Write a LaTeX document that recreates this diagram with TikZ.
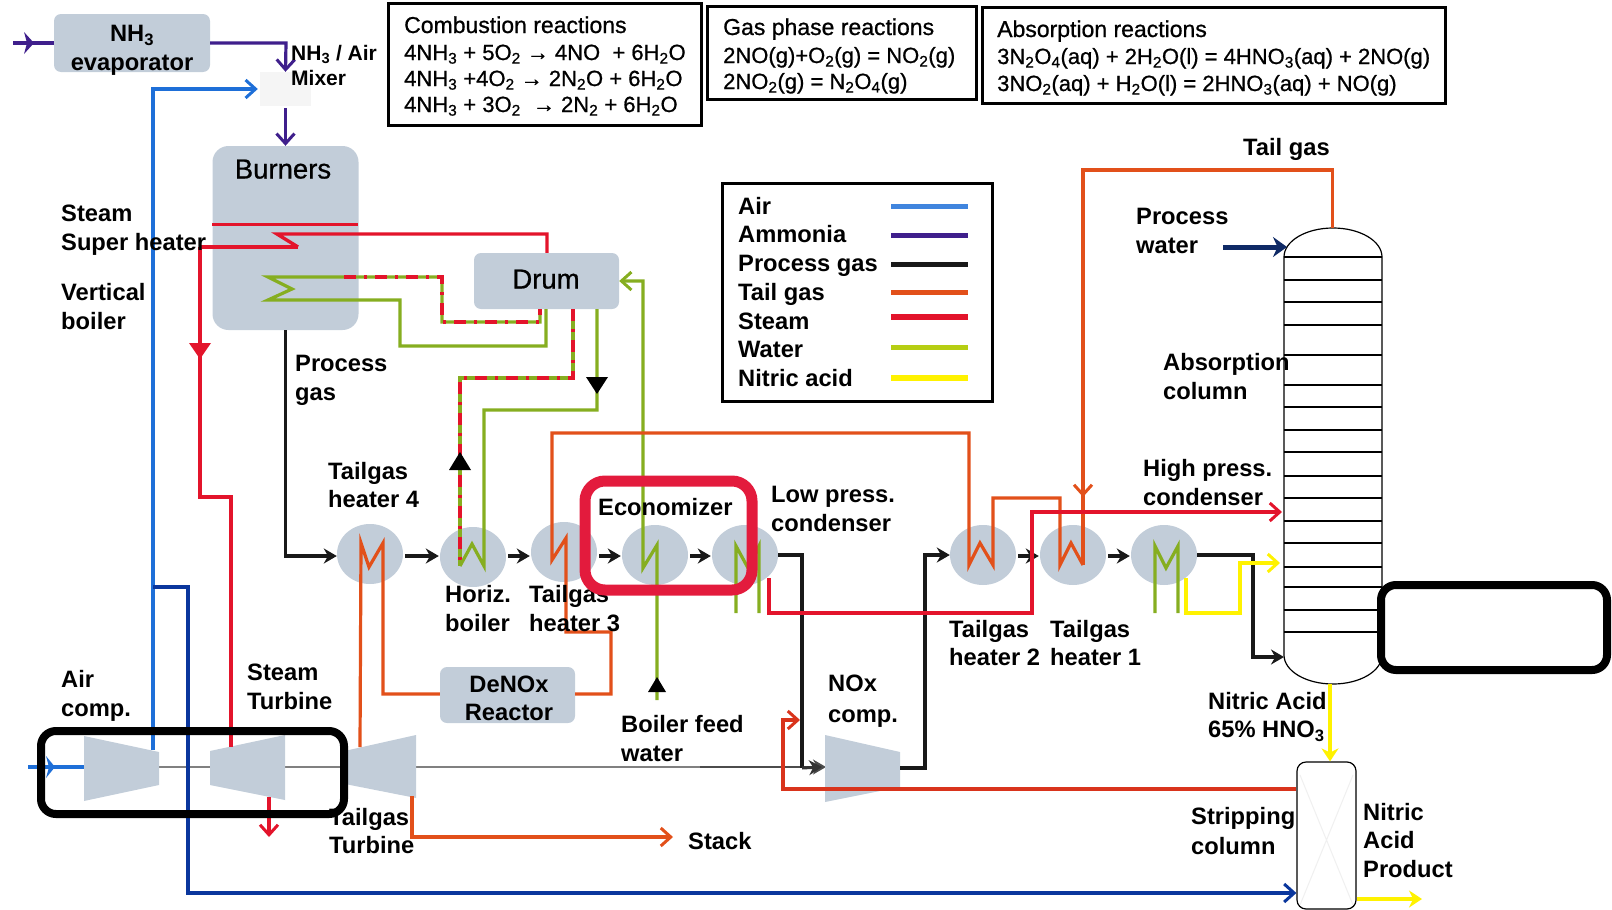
\documentclass[tikz,border=0pt]{standalone}
\usepackage{fontspec}
\setmainfont{Liberation Sans}
\newfontfamily\medfont{Liberation Sans}[FakeBold=0.8]
\usetikzlibrary{arrows.meta,shapes.geometric}
\definecolor{eqgray}{HTML}{C2CDD9}
\definecolor{airc}{HTML}{1E6FD8}
\definecolor{navyc}{HTML}{0A369D}
\definecolor{ammc}{HTML}{3F1F8C}
\definecolor{tailc}{HTML}{E2501A}
\definecolor{tailr}{HTML}{D9341C}
\definecolor{steamc}{HTML}{E3142B}
\definecolor{waterc}{HTML}{86AE20}
\definecolor{acidc}{HTML}{FFF200}
\definecolor{framer}{HTML}{E31B3D}
\definecolor{pwater}{HTML}{0F2A66}
\tikzset{
  eqbox/.style={rectangle,fill=eqgray,draw=none,inner sep=0pt,rounded corners=7pt},
  hx/.style={ellipse,fill=eqgray,draw=none,inner sep=0pt,minimum width=66pt,minimum height=60pt},
  turbo/.style={fill=eqgray,draw=none},
  lbl/.style={anchor=west,inner sep=0pt,text height=17pt,text depth=0pt,font=\fontsize{23.7}{26}\selectfont\bfseries},
  lblc/.style={lbl,anchor=center},
  rxn/.style={anchor=west,inner sep=0pt,text height=16pt,text depth=0pt,font=\fontsize{22}{26}\selectfont\medfont},
  rxt/.style={rxn,font=\fontsize{23}{26}\selectfont\medfont},
  panel/.style={draw=black,line width=3pt,fill=white},
  air/.style={draw=airc,line width=3.2pt},
  navy/.style={draw=navyc,line width=3.2pt},
  amm/.style={draw=ammc,line width=3.2pt},
  pgas/.style={draw=black!90,line width=4.5pt},
  tail/.style={draw=tailc,line width=3.2pt},
  steam/.style={draw=steamc,line width=3.4pt},
  water/.style={draw=waterc,line width=3.2pt},
  acid/.style={draw=acidc,line width=3.4pt},
  dashred/.style={draw=steamc,line width=3.4pt,dash pattern=on 12pt off 8pt on 3pt off 8pt},
  barb/.style={-{Straight Barb[length=10pt,width=18pt,line width=3pt]}},
  headblk/.style={-{Stealth[length=13pt,width=15pt]}},
  headfill/.style={-{Stealth[length=13pt,width=17pt]}},
  column/.style={draw=black,line width=1.2pt},
  tray/.style={draw=black,line width=1.2pt},
  frame/.style={line width=8pt,rounded corners=15pt},
}
\newcommand{\lab}[4]{\node[lbl] (#1) at (#2,#3) {#4};}
\newcommand{\rx}[4]{\node[rxn] (#1) at (#2,#3) {#4};}
\newcommand{\rt}[4]{\node[rxt] (#1) at (#2,#3) {#4};}
\newcommand{\s}[1]{\textsubscript{#1}}
\begin{document}
\begin{tikzpicture}[x=1pt,y=-1pt]
\useasboundingbox (0,0) rectangle (1612,910);
% ---------- equipment
\node[eqbox,minimum width=156pt,minimum height=58pt] (evap) at (132,43) {};
\node[rectangle,fill=black!4,inner sep=0pt,minimum width=51pt,minimum height=34pt] (mixer) at (285.5,89) {};
\node[eqbox,rounded corners=16pt,minimum width=146pt,minimum height=184pt] (burn) at (285.5,238) {};
\node[eqbox,minimum width=145pt,minimum height=56pt] (drum) at (546.5,281) {};
\node[eqbox,minimum width=135pt,minimum height=56pt] (denox) at (507.5,695) {};
\node[hx] (he4) at (370,554) {};
\node[hx] (hb) at (473,557) {};
\node[hx] (he3) at (564,552) {};
\node[hx] (eco) at (655,555) {};
\node[hx] (lp) at (745,555) {};
\node[hx] (he2) at (983,555) {};
\node[hx] (he1) at (1073,555) {};
\node[hx] (hp) at (1164,555) {};
\coordinate (hline) at (0,556);
% ---------- shaft
\coordinate (shaftA) at (159,767);
\coordinate (shaftB) at (822,767);
\draw[draw=black!50,line width=2.6pt] (shaftA) -- (shaftB);
\draw[draw=black!70,line width=2.4pt,-{Stealth[length=13pt,width=15pt]}] (700,767) -- (826,767);
% ---------- turbomachines
\fill[turbo] (84,736) -- (159,752) -- (159,785) -- (84,801) -- cycle;
\fill[turbo] (210,751) -- (285,735) -- (285,800) -- (210,785) -- cycle;
\fill[turbo] (340,752) -- (416,735) -- (416,798) -- (340,783) -- cycle;
\fill[turbo] (825,735) -- (900,752) -- (900,787) -- (825,802) -- cycle;
\coordinate (acOut) at (153,750);
\coordinate (stIn) at (231,747);
\coordinate (stOut) at (269,797);
\coordinate (ttIn) at (360,747);
\coordinate (ttOut) at (412,796);
\coordinate (ncIn) at (822,767);
\coordinate (ncOut) at (900,768);
% ---------- column shells
\node[inner sep=0pt,minimum width=98pt,minimum height=456pt] (abs) at (1332.5,456) {};
\draw[column] (1284,655) -- (1284,257) arc[start angle=180,end angle=360,x radius=49,y radius=29] -- (1382,655) arc[start angle=0,end angle=180,x radius=49,y radius=29];
\foreach \yy in {257,280,302,325,355,385,407,430,452,476,498,521,543,567,587,610,632}
  \draw[tray] (1284,\yy) -- (1382,\yy);
\node[draw=black,line width=1.2pt,fill=white,rounded corners=9pt,inner sep=0pt,minimum width=59pt,minimum height=147pt] (strip) at (1326.5,835.5) {};
\draw[draw=black!6,line width=1pt] (1300,775) -- (1353,905) (1353,775) -- (1300,905);
% ---------- ammonia
\coordinate (nhIn) at (13,43);
\draw[amm] (nhIn) -- (evap.west);
\fill[ammc] (24,32) -- (34,43) -- (24,54) -- (27,43) -- cycle;
\coordinate (evapMix) at (286,43);
\draw[amm,barb] (evap.east |- nhIn) -- (evapMix) -- (mixer.north);
\draw[amm,barb,shorten <=2pt] (mixer.south) -- (burn.north);
% ---------- air
\coordinate (airIn) at (28,767);
\draw[draw=airc,line width=3.4pt] (airIn) -- (84,767);
\fill[airc] (46,756) -- (55,767) -- (46,778) -- (49,767) -- cycle;
\draw[air,barb,shorten >=2pt] (acOut) |- (mixer.west);
\coordinate (blueTee) at (153,587);
\coordinate (blueDown) at (188,893);
\draw[navy,barb] (blueTee) -| (blueDown) -- (strip.west |- blueDown);
% ---------- steam
\draw[steamc,line width=2.8pt] (212,224.5) -- (358,224.5);
\coordinate (sA) at (200,247);
\coordinate (sB) at (298,247);
\coordinate (sC) at (277,234);
\draw[steam] (sB) -- (sC) -| ([xshift=.5pt]drum.north);
\draw[steam,line width=4.6pt] (sA) -- (sB);
\coordinate (sD) at (200,497);
\coordinate (sE) at (231,497);
\draw[steam] (sA) -- (sD) -- (sE) -- (stIn);
\fill[steamc] (189,343) -- (211,343) -- (200,359) -- cycle;
\draw[steam,barb] (stOut) -- (269,837);
% ---------- water loops at drum
\coordinate (wA) at (268,277);
\coordinate (wB) at (292,289);
\coordinate (wC) at (268,300);
\coordinate (wE) at (400,346);
\coordinate (wF) at (442,322);
\draw[water] (546,309) |- (wE) |- (wC) -- (wB) -- (wA) -| (wF) -| (540,309);
\draw[dashred] (344,277) -| (wF) -| (540,309);
% drum down to horizontal boiler
\coordinate (dA) at (573,309);
\coordinate (dB) at (460,378);
\coordinate (dC) at (460,566);
\draw[water] (dA) |- (dB) -- (dC);
\draw[dashred] (dA) |- (dB) -- (dC);
\fill[black] (449,470) -- (471,470) -- (460,452) -- cycle;
\coordinate (gA) at (597,309);
\coordinate (gB) at (484,410);
\coordinate (gC) at (484,566);
\coordinate (gD) at (472,544);
\draw[water] (gA) |- (gB) -- (gC) -- (gD) -- (dC);
\fill[black] (586,377) -- (608,377) -- (597,394) -- cycle;
% boiler feed / economizer
\coordinate (bfw) at (657,700);
\coordinate (ecoA) at (657,545);
\coordinate (ecoB) at (643,568);
\coordinate (ecoC) at (643,281);
\draw[water,barb] (bfw) -- (ecoA) -- (ecoB) -- (ecoC) -- (drum.east);
\fill[black] (648,692) -- (666,692) -- (657,677) -- cycle;
% condenser coils
\draw[water] (736,613) -- (736,546) -- (748,568) -- (759,546) -- (759,613);
\draw[water] (1155,613) -- (1155,546) -- (1166,568) -- (1178,546) -- (1178,613);
% ---------- process gas
\draw[pgas,headblk,line width=3.8pt] (burn.south) |- (he4.west |- hline);
\foreach \p/\q in {he4/hb,hb/he3,he3/eco,eco/lp,he2/he1,he1/hp}
  \draw[pgas,headblk,shorten <=2pt,shorten >=1pt] (\p.east |- hline) -- (\q.west |- hline);
\coordinate (lpD) at (802,768);
\draw[pgas,line width=3.8pt] (lp.east) -| (lpD);
\draw[draw=black!80,line width=3pt,headblk] (lpD) -- (ncIn);
\coordinate (ncU) at (925,768);
\draw[pgas,headblk] (ncOut) -- (ncU) |- (he2.west);
\coordinate (hpD) at (1253,657);
\draw[pgas,headblk] (hp.east) -| (hpD) -- (1284,657);
% ---------- tail gas
\coordinate (t1) at (361,543);
\coordinate (t2) at (369,567);
\coordinate (t3) at (383,543);
\coordinate (t4) at (383,694);
\draw[tail] (ttIn) -- (t1) -- (t2) -- (t3) -- (t4) -- (t4 -| denox.west);
\coordinate (t5) at (611,694);
\coordinate (t6) at (611,632);
\coordinate (t7) at (566,632);
\coordinate (t8) at (566,538);
\coordinate (t9) at (552,560);
\coordinate (t10) at (552,433);
\coordinate (t11) at (969,433);
\coordinate (t12) at (969,565);
\coordinate (t13) at (980,543);
\coordinate (t14) at (993,565);
\coordinate (t15) at (993,498);
\coordinate (t16) at (1060,498);
\coordinate (t17) at (1060,565);
\coordinate (t18) at (1071,543);
\coordinate (t19) at (1083,565);
\coordinate (t20) at (1083,170);
\draw[tail] (t5 -| denox.east) -- (t5) -- (t6) -- (t7) -- (t8) -- (t9) -- (t10) -- (t11) -- (t12) -- (t13) -- (t14) -- (t15) -- (t16) -- (t17) -- (t18) -- (t19);
\draw[tail] (abs.north) -- (abs.north |- t20) -- (t20) -- (t19);
\draw[tail,barb] (t20) -- (1083,497);
\coordinate (stack) at (673,837);
\draw[tail,barb] (ttOut) |- (stack);
\coordinate (sr) at (783,789);
\coordinate (su) at (783,720);
\draw[draw=tailr,line width=3.2pt,barb] (strip.west |- sr) -- (sr) -- (su) -- (800,720);
% ---------- high pressure steam line
\coordinate (r1) at (769,578);
\coordinate (r2) at (769,613);
\coordinate (r3) at (1032,613);
\coordinate (r4) at (1032,512);
\draw[steam,barb] (r1) -- (r2) -- (r3) -- (r4) -- (1282,512);
% ---------- nitric acid
\coordinate (y1) at (1186,578);
\coordinate (y2) at (1186,613);
\coordinate (y3) at (1240,613);
\coordinate (y4) at (1240,563);
\draw[acid,barb] (y1) -- (y2) -- (y3) -- (y4) -- (1280,563);
\coordinate (absOut) at (1330,684);
\draw[acid,headfill] (absOut) -- (absOut |- strip.north);
\coordinate (prod) at (1422,899);
\draw[draw=acidc,line width=4.5pt,headfill] (strip.east |- prod) -- (prod);
% process water
\coordinate (pwIn) at (1223,247);
\draw[draw=pwater,line width=5pt,-{Stealth[length=14pt,width=20pt]}] (pwIn) -- (1287,247);
% ---------- reaction panels
\node[panel,inner sep=0pt,minimum width=313pt,minimum height=122pt] (p1) at (544.5,64) {};
\node[panel,inner sep=0pt,minimum width=269pt,minimum height=93pt] (p2) at (841.5,52.5) {};
\node[panel,inner sep=0pt,minimum width=463pt,minimum height=96pt] (p3) at (1214,55) {};
\rt{c0}{404}{25}{Combustion reactions}
\rx{c1}{404}{52}{4NH\s{3} + 5O\s{2} → 4NO\ \ + 6H\s{2}O}
\rx{c2}{404}{78}{4NH\s{3} +4O\s{2} → 2N\s{2}O + 6H\s{2}O}
\rx{c3}{404}{104}{4NH\s{3} + 3O\s{2}\ \ → 2N\s{2} + 6H\s{2}O}
\rt{g0}{723}{27}{Gas phase reactions}
\rx{g1}{723}{55}{2NO(g)+O\s{2}(g) = NO\s{2}(g)}
\rx{g2}{723}{81}{2NO\s{2}(g) = N\s{2}O\s{4}(g)}
\rt{a0}{997}{29}{Absorption reactions}
\rx{a1}{997}{56}{3N\s{2}O\s{4}(aq) + 2H\s{2}O(l) = 4HNO\s{3}(aq) + 2NO(g)}
\rx{a2}{997}{83}{3NO\s{2}(aq) + H\s{2}O(l) = 2HNO\s{3}(aq) + NO(g)}
% ---------- legend
\node[panel,inner sep=0pt,minimum width=270pt,minimum height=218pt] (leg) at (857,292) {};
\lab{k1}{738}{206}{Air}
\lab{k2}{738}{234}{Ammonia}
\lab{k3}{738}{263}{Process gas}
\lab{k4}{738}{292}{Tail gas}
\lab{k5}{738}{321}{Steam}
\lab{k6}{738}{349}{Water}
\lab{k7}{738}{378}{Nitric acid}
\draw[draw=airc!85!white,line width=5pt] (891,206) -- (968,206);
\draw[draw=ammc,line width=5pt] (891,235) -- (968,235);
\draw[draw=black!90,line width=5pt] (891,264) -- (968,264);
\draw[draw=tailc,line width=5pt] (891,292) -- (968,292);
\draw[draw=steamc,line width=5.5pt] (891,317) -- (968,317);
\draw[draw=waterc!60!yellow,line width=5pt] (891,347) -- (968,347);
\draw[draw=acidc,line width=5.5pt] (891,378) -- (968,378);
% ---------- labels
\node[lblc] (e1) at (132,33) {NH\s{3}};
\node[lblc] (e2) at (132,62) {evaporator};
\node[lbl,font=\fontsize{21}{24}\selectfont\bfseries] (m1) at (291,52) {NH\s{3} / Air};
\node[lbl,font=\fontsize{21}{24}\selectfont\bfseries] (m2) at (291,77) {Mixer};
\node[lblc,font=\fontsize{27.5}{30}\selectfont\medfont] (bt) at (283,170) {Burners};
\node[lblc,font=\fontsize{27.5}{30}\selectfont\medfont] (dt) at (546,280) {Drum};
\lab{a}{61}{213}{Steam}
\lab{b}{61}{242}{Super heater}
\lab{cc}{61}{292}{Vertical}
\lab{d}{61}{321}{boiler}
\lab{ee}{295}{363}{Process}
\lab{f}{295}{392}{gas}
\lab{gg}{328}{471}{Tailgas}
\lab{h}{328}{499}{heater 4}
\lab{i}{445}{594}{Horiz.}
\lab{j}{445}{623}{boiler}
\lab{k}{529}{594}{Tailgas}
\lab{l}{529}{623}{heater 3}
\lab{mm}{598}{507}{Economizer}
\lab{n}{771}{494}{Low press.}
\lab{o}{771}{523}{condenser}
\lab{pp}{61}{679}{Air}
\lab{q}{61}{708}{comp.}
\lab{r}{247}{672}{Steam}
\lab{ss}{247}{701}{Turbine}
\lab{t}{329}{817}{Tailgas}
\lab{u}{329}{845}{Turbine}
\lab{v}{621}{724}{Boiler feed}
\lab{w}{621}{753}{water}
\lab{xx}{688}{841}{Stack}
\lab{yy}{828}{683}{NOx}
\lab{z}{828}{714}{comp.}
\lab{aa}{949}{629}{Tailgas}
\lab{ab}{949}{657}{heater 2}
\lab{ac}{1050}{629}{Tailgas}
\lab{ad}{1050}{657}{heater 1}
\lab{ae}{1143}{468}{High press.}
\lab{af}{1143}{497}{condenser}
\lab{ag}{1208}{701}{Nitric Acid}
\lab{ah}{1208}{729}{65\% HNO\s{3}}
\lab{ai}{1191}{816}{Stripping}
\lab{aj}{1191}{846}{column}
\lab{ak}{1363}{812}{Nitric}
\lab{al}{1363}{840}{Acid}
\lab{am}{1363}{869}{Product}
\lab{an}{1243}{147}{Tail gas}
\lab{ao}{1136}{216}{Process}
\lab{ap}{1136}{245}{water}
\lab{aq}{1163}{362}{Absorption}
\lab{ar}{1163}{391}{column}
\node[lblc] (dn1) at (509,684) {DeNOx};
\node[lblc] (dn2) at (509,712) {Reactor};
% ---------- highlight frames
\draw[frame,draw=framer,line width=11pt,rounded corners=20pt] (585,481) rectangle (752,590);
\draw[frame,draw=black] (41,731) rectangle (344,814);
\draw[frame,draw=black,fill=white] (1381,585) rectangle (1607,670);
\end{tikzpicture}
\end{document}
